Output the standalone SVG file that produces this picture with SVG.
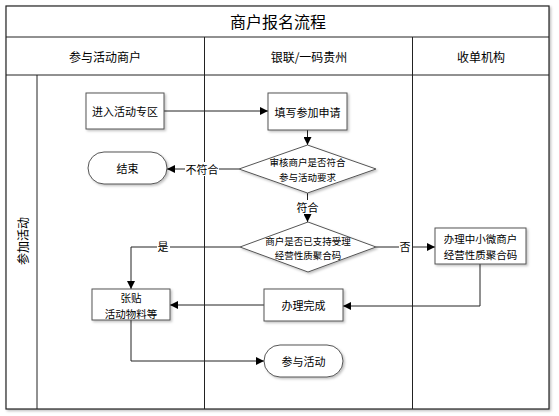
<svg xmlns="http://www.w3.org/2000/svg" width="559" height="416" viewBox="0 0 559 416">
<defs>
<marker id="arr" viewBox="0 0 10 10" refX="10" refY="5" markerWidth="8" markerHeight="8" markerUnits="userSpaceOnUse" orient="auto">
<path d="M0,0 L10,5 L0,10 z" fill="#000"/>
</marker>
<filter id="sh" x="-10%" y="-10%" width="130%" height="130%">
<feDropShadow dx="1.5" dy="1.5" stdDeviation="0.8" flood-color="#000" flood-opacity="0.25"/>
</filter>
</defs>
<style>
text{font-family:"Noto Sans CJK SC","Microsoft YaHei",sans-serif;fill:#000;text-anchor:middle;dominant-baseline:central}
.frame{fill:#fff;stroke:#222;stroke-width:1.2}
.ln{fill:none;stroke:#222;stroke-width:1}
.node{fill:#fff;stroke:#555;stroke-width:1}
.con{fill:none;stroke:#222;stroke-width:1}
.t{font-size:11px}
.t2{font-size:10.5px}
.d{font-size:9.5px}
.h{font-size:12px}
.lbl{font-size:11px}
</style>
<rect width="559" height="416" fill="#fff"/>
<g id="pool">
<rect class="frame" x="6" y="6" width="543" height="403" filter="url(#sh)"/>
<line class="ln" x1="6" y1="37" x2="549" y2="37"/>
<line class="ln" x1="6" y1="75" x2="549" y2="75"/>
<line class="ln" x1="204.5" y1="37" x2="204.5" y2="409"/>
<line class="ln" x1="412.5" y1="37" x2="412.5" y2="409"/>
<line class="ln" x1="37" y1="75" x2="37" y2="409"/>
<text x="278" y="21" style="font-size:16px">商户报名流程</text>
<text class="h" x="105" y="56">参与活动商户</text>
<text class="h" x="309" y="56">银联/一码贵州</text>
<text class="h" x="481" y="56">收单机构</text>
<text class="h" x="22" y="241" transform="rotate(-90 22 241)">参加活动</text>
</g>
<g id="connectors">
<line class="con" x1="164" y1="111" x2="268" y2="111" marker-end="url(#arr)"/>
<line class="con" x1="307.5" y1="130" x2="307.5" y2="145" marker-end="url(#arr)"/>
<line class="con" x1="239" y1="169" x2="167" y2="169" marker-end="url(#arr)"/>
<rect x="185" y="162" width="34" height="14" fill="#fff"/>
<text class="lbl" x="202" y="169">不符合</text>
<line class="con" x1="307.5" y1="193" x2="307.5" y2="222" marker-end="url(#arr)"/>
<rect x="295" y="200" width="25" height="14" fill="#fff"/>
<text class="lbl" x="307.5" y="207">符合</text>
<line class="con" x1="376" y1="247" x2="435" y2="247" marker-end="url(#arr)"/>
<rect x="399" y="240" width="13" height="14" fill="#fff"/>
<text class="lbl" x="405" y="246">否</text>
<polyline class="con" points="240,247 131,247 131,289" marker-end="url(#arr)"/>
<rect x="157" y="240" width="13" height="14" fill="#fff"/>
<text class="lbl" x="163" y="246">是</text>
<polyline class="con" points="480,264 480,306 343,306" marker-end="url(#arr)"/>
<line class="con" x1="264" y1="305" x2="170" y2="305" marker-end="url(#arr)"/>
<polyline class="con" points="131,320 131,361 264,361" marker-end="url(#arr)"/>
</g>
<g id="n_enter">
<rect class="node" x="86" y="93" width="78" height="36" filter="url(#sh)"/>
<text class="t" x="125" y="111">进入活动专区</text>
</g>
<g id="n_apply">
<rect class="node" x="268" y="93" width="79" height="37" filter="url(#sh)"/>
<text class="t" x="307.5" y="111.5">填写参加申请</text>
</g>
<g id="n_review">
<polygon class="node" points="307.5,145 376,169 307.5,193 239,169" filter="url(#sh)"/>
<text class="d" x="307.5" y="162">审核商户是否符合</text>
<text class="d" x="307.5" y="177">参与活动要求</text>
</g>
<g id="n_end">
<rect class="node" x="88" y="152" width="79" height="32" rx="16" ry="16" filter="url(#sh)"/>
<text class="t" x="127.5" y="168">结束</text>
</g>
<g id="n_check">
<polygon class="node" points="308,222 376,247 308,272 240,247" filter="url(#sh)"/>
<text class="d" x="308" y="240.5">商户是否已支持受理</text>
<text class="d" x="308" y="254.5">经营性质聚合码</text>
</g>
<g id="n_handle">
<rect class="node" x="435" y="228" width="91" height="36" filter="url(#sh)"/>
<text class="t2" x="480.5" y="238">办理中小微商户</text>
<text class="t2" x="480.5" y="254">经营性质聚合码</text>
</g>
<g id="n_done">
<rect class="node" x="264" y="289" width="79" height="32" filter="url(#sh)"/>
<text class="t" x="303.5" y="305">办理完成</text>
</g>
<g id="n_post">
<rect class="node" x="92" y="289" width="78" height="31" filter="url(#sh)"/>
<text class="t2" x="131" y="297">张贴</text>
<text class="t2" x="131" y="313">活动物料等</text>
</g>
<g id="n_join">
<rect class="node" x="264" y="345" width="79" height="32" rx="16" ry="16" filter="url(#sh)"/>
<text class="t" x="303.5" y="361">参与活动</text>
</g>
</svg>
